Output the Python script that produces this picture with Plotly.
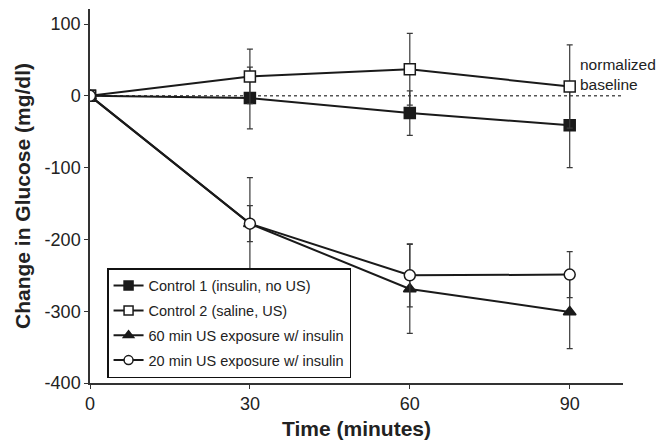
import plotly.graph_objects as go

time_min = [0, 30, 60, 90]

control1 = [0, -3, -24, -41]
control1_err = [0, 43, 31, 59]

control2 = [0, 27, 37, 13]
control2_err = [0, 38, 50, 58]

us60 = [0, -178, -269, -301]
us60_err = [0, 25, 62, 51]

us20 = [0, -178, -250, -249]
us20_err = [0, 64, 44, 32]

names = ["Control 1 (insulin, no US)", "Control 2 (saline, US)",
         "60 min US exposure w/ insulin", "20 min US exposure w/ insulin"]

x_ticks = [0, 30, 60, 90]
y_ticks = [-400, -300, -200, -100, 0, 100]
y_tick_labels = ["-400", "-300", "-200", "-100", "0", "100"]

baseline_x = [0, 100]
baseline_y = [0, 0]

FONT = "Liberation Sans, Arial, Helvetica, sans-serif"
INK = "#1a1a1a"

fig = go.Figure()

fig.add_trace(go.Scatter(x=baseline_x, y=baseline_y, mode="lines",
                         line=dict(color="#555", width=1.5, dash="dot"),
                         showlegend=False, hoverinfo="skip"))

series = [
    (control1, control1_err, "square", INK),
    (control2, control2_err, "square", "white"),
    (us60, us60_err, "triangle-up", INK),
    (us20, us20_err, "circle", "white"),
]
for (vals, errs, sym, fill), nm in zip(series, names):
    fig.add_trace(go.Scatter(
        x=time_min, y=vals, name=nm, mode="lines+markers",
        line=dict(color=INK, width=2),
        marker=dict(symbol=sym, size=11, color=fill,
                    line=dict(color=INK, width=1.5)),
        error_y=dict(type="data", array=errs, visible=True,
                     color="#3a3a3a", thickness=1.2, width=3),
        showlegend=False,
    ))

# legend-only entries (smaller symbols, as in the reference legend)
for (vals, errs, sym, fill), nm in zip(series, names):
    fig.add_trace(go.Scatter(
        x=[None], y=[None], name=nm, mode="lines+markers",
        line=dict(color=INK, width=2),
        marker=dict(symbol=sym, size=9, color=fill,
                    line=dict(color=INK, width=1.5)),
        legendgroup=nm, showlegend=True,
    ))

fig.add_annotation(x=91.5, y=30, xref="x", yref="y", text="normalized<br>baseline",
                   showarrow=False, xanchor="left", yanchor="middle", align="left",
                   font=dict(family=FONT, size=15.5, color="#222"))

fig.update_layout(
    width=661, height=444,
    margin=dict(l=90, r=38, t=9, b=61),
    paper_bgcolor="white", plot_bgcolor="white",
    font=dict(family=FONT, color="#222"),
    showlegend=True,
    legend=dict(x=0.032, y=0.013, xanchor="left", yanchor="bottom",
                bgcolor="white", bordercolor="#111", borderwidth=1.5,
                font=dict(family=FONT, size=14.5, color="#222"),
                tracegroupgap=3, itemwidth=30),
    xaxis=dict(range=[0, 100], tickvals=x_ticks,
               showline=True, linecolor="#333", linewidth=1.5,
               ticks="outside", ticklen=4, tickcolor="#333",
               showgrid=False, zeroline=False, automargin=False,
               tickfont=dict(size=18, family=FONT, color="#222"),
               title=dict(text="<b>Time (minutes)</b>", standoff=8,
                          font=dict(size=21, family=FONT, color="#222"))),
    yaxis=dict(range=[-400, 121], tickvals=y_ticks, ticktext=y_tick_labels,
               showline=True, linecolor="#333", linewidth=1.5,
               ticks="outside", ticklen=4, tickcolor="#333",
               showgrid=False, zeroline=False, automargin=False,
               tickfont=dict(size=18, family=FONT, color="#222"),
               title=dict(text="<b>Change in Glucose (mg/dl)</b>", standoff=8,
                          font=dict(size=21, family=FONT, color="#222"))),
)

fig.write_html("out.html", config={"displayModeBar": False},
               post_script="document.body.style.margin='0px';")
